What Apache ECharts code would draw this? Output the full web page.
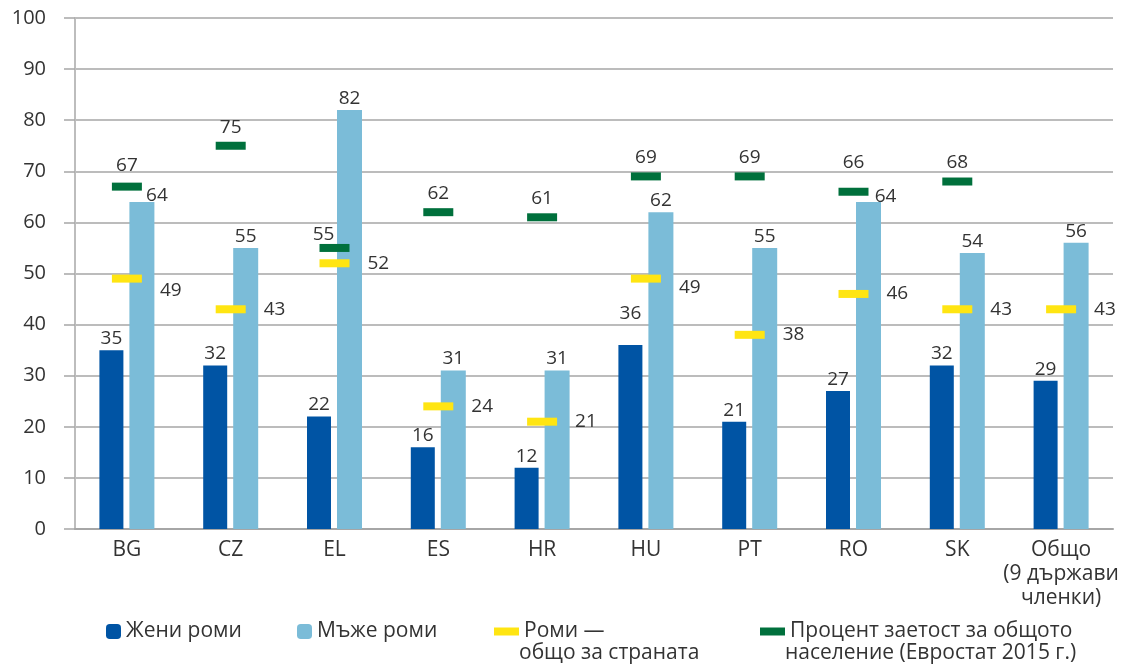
<!DOCTYPE html>
<html>
<head>
<meta charset="utf-8">
<script src="https://cdn.jsdelivr.net/npm/echarts@6/dist/echarts.min.js"></script>
<style>
  html, body { margin: 0; padding: 0; background: #fff; }
  #chart { width: 1126px; height: 667px; }
</style>
</head>
<body>
<div id="chart"></div>
<script>
// categories & values
var countries = ['BG', 'CZ', 'EL', 'ES', 'HR', 'HU', 'PT', 'RO', 'SK', 'Общо\n(9 държави\nчленки)'];
var womenRoma = [35, 32, 22, 16, 12, 36, 21, 27, 32, 29];
var menRoma = [64, 55, 82, 31, 31, 62, 55, 64, 54, 56];
var romaTotal = [49, 43, 52, 24, 21, 49, 38, 46, 43, 43];
var generalPop = [67, 75, 55, 62, 61, 69, 69, 66, 68, '-'];
var yTicks = [0, 10, 20, 30, 40, 50, 60, 70, 80, 90, 100];

var names = ['Жени роми', 'Мъже роми', 'Роми —\nобщо за страната', 'Процент заетост за общото\nнаселение (Евростат 2015 г.)'];

// label nudges (where the original moved labels by hand)
var womenLabelShift = { 5: [0, -20] };
var menLabelShift = { 0: [15, 5], 7: [17, 6] };
var romaLabelShift = { 0: [0, 12], 5: [0, 9] };
var popLabelShift = { 0: [0, -3], 2: [-11, 5], 7: [0, -11] };

var txt = '#333333';
var font = 'Open Sans';

function withShift(values, shifts) {
    var out = [];
    for (var i = 0; i < values.length; i++) {
        if (shifts[i]) {
            out.push({ value: values[i], label: { offset: shifts[i] } });
        } else {
            out.push(values[i]);
        }
    }
    return out;
}

var chart = echarts.init(document.getElementById('chart'));

var labelBase = { show: true, color: txt, fontFamily: font, fontSize: 19 };
var legendText = { color: txt, fontSize: 21, fontFamily: font };

chart.setOption({
    animation: false,
    textStyle: { fontFamily: font },
    grid: { left: 75, right: 13, top: 18, bottom: 138 },
    legend: [
        { data: [names[0]], left: 101, top: 616, itemWidth: 15, itemHeight: 15, selectedMode: false, textStyle: legendText },
        { data: [names[1]], left: 292, top: 616, itemWidth: 15, itemHeight: 15, selectedMode: false, textStyle: legendText },
        { data: [names[2]], left: 489, top: 616, itemWidth: 25, itemHeight: 8, selectedMode: false,
          formatter: function (n) { return n.split('\n')[0]; }, textStyle: legendText },
        { data: [names[3]], left: 755, top: 616, itemWidth: 25, itemHeight: 8, selectedMode: false,
          formatter: function (n) { return n.split('\n')[0]; }, textStyle: legendText }
    ],
    graphic: [
        { type: 'text', left: 519, top: 643, style: { text: names[2].split('\n')[1], fill: txt, font: '21px "Open Sans"' } },
        { type: 'text', left: 785, top: 643, style: { text: names[3].split('\n')[1], fill: txt, font: '21px "Open Sans"' } }
    ],
    xAxis: {
        type: 'category',
        data: countries,
        axisLine: { lineStyle: { color: '#a6a6a6', width: 2 } },
        axisTick: { show: false },
        axisLabel: { color: txt, fontSize: 21, fontFamily: font, margin: 9, lineHeight: 24, interval: 0 }
    },
    yAxis: {
        type: 'value',
        min: yTicks[0],
        max: yTicks[yTicks.length - 1],
        interval: 10,
        axisLine: { show: true, lineStyle: { color: '#bdbdbd', width: 2 } },
        axisTick: { show: true, length: 11, lineStyle: { color: '#a6a6a6', width: 1.5 } },
        splitLine: { lineStyle: { color: '#a6a6a6', width: 1.5 } },
        axisLabel: { color: txt, fontSize: 20, fontFamily: font, margin: 29 }
    },
    series: [
        {
            name: names[0], type: 'bar', data: withShift(womenRoma, womenLabelShift),
            barWidth: 24, barGap: '25%',
            itemStyle: { color: '#0054a4' },
            label: Object.assign({ position: 'top', distance: 2 }, labelBase)
        },
        {
            name: names[1], type: 'bar', data: withShift(menRoma, menLabelShift),
            barWidth: 25,
            itemStyle: { color: '#7bbcd8' },
            label: Object.assign({ position: 'top', distance: 2 }, labelBase)
        },
        {
            name: names[2], type: 'scatter', data: withShift(romaTotal, romaLabelShift),
            symbol: 'rect', symbolSize: [30, 8], z: 5,
            itemStyle: { color: '#ffe512', opacity: 1 },
            label: Object.assign({ position: 'right', distance: 18 }, labelBase)
        },
        {
            name: names[3], type: 'scatter', data: withShift(generalPop, popLabelShift),
            symbol: 'rect', symbolSize: [30, 8], z: 5,
            itemStyle: { color: '#00703c', opacity: 1 },
            label: Object.assign({ position: 'top', distance: 5 }, labelBase)
        }
    ]
});
</script>
</body>
</html>
